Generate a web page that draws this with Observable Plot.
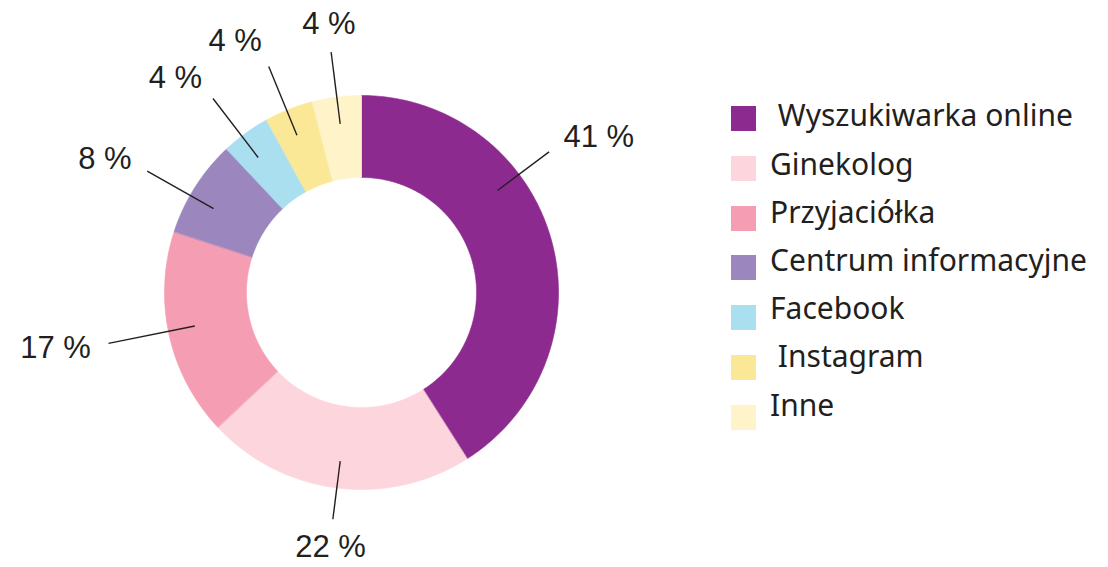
<!DOCTYPE html>
<html>
<head>
<meta charset="utf-8">
<script src="https://cdn.jsdelivr.net/npm/d3@7"></script>
<script src="https://cdn.jsdelivr.net/npm/@observablehq/plot@0.6"></script>
<style>
  html, body { margin: 0; padding: 0; background: #fff; }
  #wrap { position: relative; width: 1108px; height: 567px; overflow: hidden; }
  #legend { position: absolute; left: 731px; top: 106px; font-family: "Noto Sans", "Open Sans", sans-serif; font-size: 30px; color: #231f20; }
  .sw { position: absolute; left: 0; width: 25px; height: 25px; }
  .lb { position: absolute; left: 39px; line-height: 30px; white-space: pre; }
</style>
</head>
<body>
<div id="wrap"><div id="chart"></div><div id="legend"></div></div>
<script>
// ---- data ----
const labels = [" Wyszukiwarka online", "Ginekolog", "Przyjaciółka", "Centrum informacyjne", "Facebook", " Instagram", "Inne"];
const values = [41, 22, 17, 8, 4, 4, 4];
const colors = ["#8d2a8f", "#fdd5dd", "#f59db2", "#9b86be", "#aadff0", "#fbe896", "#fff4c9"];

// ---- layout ----
const W = 1108, H = 567;
const cx = 361, cy = 292, R = 197;          // centre and outer radius in px
const inner = 0.584;                         // inner radius (fraction of outer)
const leaderAt = [0.36, 0.5, 0.52, 0.4, 0.4, 0.45, 0.5];      // where in each slice the leader sits
const leaderOut = [1.19, 1.16, 1.31, 1.25, 1.24, 1.24, 1.23]; // outer end of each leader
const leaderIn = 0.863;
const ink = "#231f20";

const total = d3.sum(values);
let acc = 0;
const slices = values.map((v, i) => {
  const a0 = acc / total * 2 * Math.PI;
  acc += v;
  const a1 = acc / total * 2 * Math.PI;
  return {label: labels[i], value: v, a0, a1, la: a0 + (a1 - a0) * leaderAt[i], r1: leaderOut[i]};
});

// outline of each ring segment, generated from the slice angles
const ring = [];
for (const s of slices) {
  const n = Math.max(8, Math.ceil((s.a1 - s.a0) * 60));
  for (let k = 0; k <= n; k++) {
    const a = s.a0 + (s.a1 - s.a0) * k / n;
    ring.push({label: s.label, x: Math.sin(a), y: Math.cos(a)});
  }
  for (let k = n; k >= 0; k--) {
    const a = s.a0 + (s.a1 - s.a0) * k / n;
    ring.push({label: s.label, x: inner * Math.sin(a), y: inner * Math.cos(a)});
  }
}

const leaders = slices.map(s => ({
  x1: leaderIn * Math.sin(s.la), y1: leaderIn * Math.cos(s.la),
  x2: s.r1 * Math.sin(s.la), y2: s.r1 * Math.cos(s.la)
}));
const texts = slices.map(s => {
  const sn = Math.sin(s.la), cs = Math.cos(s.la);
  const ex = s.r1 * sn + 18 / R * sn;
  const ey = s.r1 * cs + (20 + 8 * Math.abs(cs)) / R * cs;
  const anchor = sn > 0.3 ? "start" : sn < -0.3 ? "end" : "middle";
  return {x: ex, y: ey, t: `${s.value} %`, anchor};
});

const textOpts = {x: "x", y: "y", text: "t", fill: ink, fontSize: 31, fontFamily: "Liberation Sans, Arial, sans-serif"};
const chart = Plot.plot({
  width: W, height: H,
  margin: 0,
  x: {domain: [-cx / R, (W - cx) / R], range: [0, W], axis: null},
  y: {domain: [-(H - cy) / R, cy / R], range: [H, 0], axis: null},
  color: {domain: labels, range: colors},
  marks: [
    Plot.line(ring, {x: "x", y: "y", z: "label", fill: "label", stroke: "label", strokeWidth: 0.6, curve: "linear-closed"}),
    Plot.link(leaders, {x1: "x1", y1: "y1", x2: "x2", y2: "y2", stroke: ink, strokeWidth: 1.4}),
    ...["start", "middle", "end"].map(a =>
      Plot.text(texts.filter(d => d.anchor === a), {...textOpts, textAnchor: a}))
  ]
});
document.getElementById("chart").appendChild(chart);

const legend = document.getElementById("legend");
labels.forEach((l, i) => {
  const sw = document.createElement("div");
  sw.className = "sw";
  sw.style.top = (i * 49.8) + "px";
  sw.style.background = colors[i];
  legend.appendChild(sw);
  const lb = document.createElement("div");
  lb.className = "lb";
  lb.style.top = (21 - 26.6 + i * 48.2) + "px";
  lb.textContent = l;
  legend.appendChild(lb);
});
</script>
</body>
</html>
